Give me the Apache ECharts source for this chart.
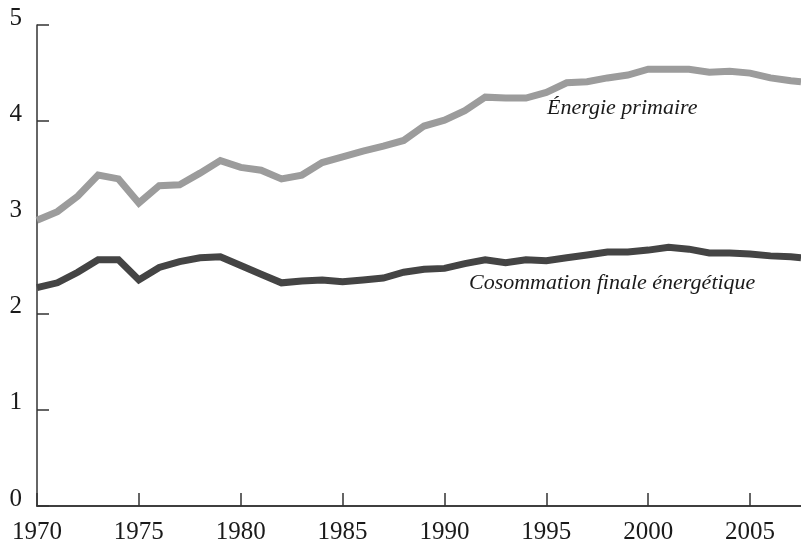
<!DOCTYPE html>
<html><head><meta charset="utf-8">
<script src="https://cdn.jsdelivr.net/npm/echarts@6/dist/echarts.min.js"></script>
<style>html,body{margin:0;padding:0;background:#fff}#c{width:801px;height:541px}</style>
</head><body><div id="c"></div>
<script>
var years = [1970,1971,1972,1973,1974,1975,1976,1977,1978,1979,1980,1981,1982,1983,1984,1985,1986,1987,1988,1989,1990,1991,1992,1993,1994,1995,1996,1997,1998,1999,2000,2001,2002,2003,2004,2005,2006,2007,2007.5];
var primaire = [2.97,3.06,3.22,3.44,3.40,3.15,3.33,3.34,3.46,3.59,3.52,3.49,3.40,3.44,3.57,3.63,3.69,3.74,3.80,3.95,4.01,4.11,4.25,4.24,4.24,4.30,4.40,4.41,4.45,4.48,4.54,4.54,4.54,4.51,4.52,4.50,4.45,4.42,4.41];
var finale = [2.27,2.32,2.43,2.56,2.56,2.35,2.48,2.54,2.58,2.59,2.50,2.41,2.32,2.34,2.35,2.33,2.35,2.37,2.43,2.46,2.47,2.52,2.56,2.53,2.56,2.55,2.58,2.61,2.64,2.64,2.66,2.69,2.67,2.63,2.63,2.62,2.60,2.59,2.58];
var yTicks = [0,1,2,3,4,5];
var labelPrimaire = 'Énergie primaire';
var labelFinale = 'Cosommation finale énergétique';

function pairs(xs, ys){ return xs.map(function(x,i){ return [x, ys[i]]; }); }

var chart = echarts.init(document.getElementById('c'), null, {renderer:'canvas'});
var font = 'Liberation Serif';
var axisCol = '#333';
chart.setOption({
  animation:false,
  backgroundColor:'#fff',
  grid:{left:37,right:0,top:25,bottom:35,containLabel:false,outerBoundsMode:'none'},
  xAxis:[{
    type:'value', min:1970, max:2007.5, interval:5,
    axisLine:{show:true,onZero:false,lineStyle:{color:axisCol,width:1.5}},
    axisTick:{show:true,inside:true,length:13,lineStyle:{color:axisCol,width:1.5}},
    axisLabel:{color:'#1a1a1a',fontFamily:font,fontSize:25,margin:14,showMaxLabel:false,formatter:function(v){return String(v);}},
    splitLine:{show:false}
  },{
    type:'value', position:'top', min:1970, max:2007.5,
    axisLine:{show:true,lineStyle:{color:axisCol,width:1.5}},
    axisTick:{show:false}, axisLabel:{show:false}, splitLine:{show:false}
  }],
  yAxis:{
    type:'value', min:yTicks[0], max:yTicks[yTicks.length-1], interval:1,
    axisLine:{show:true,onZero:false,lineStyle:{color:axisCol,width:1.5}},
    axisTick:{show:true,inside:true,length:12,lineStyle:{color:axisCol,width:1.5}},
    axisLabel:{color:'#1a1a1a',fontFamily:font,fontSize:25,margin:15,verticalAlign:'bottom',lineHeight:14},
    splitLine:{show:false}
  },
  series:[
    {type:'line',data:pairs(years,primaire),showSymbol:false,symbol:'none',lineStyle:{color:'#9c9c9c',width:7,join:'miter'}},
    {type:'line',data:pairs(years,finale),showSymbol:false,symbol:'none',lineStyle:{color:'#444',width:7,join:'miter'}}
  ],
  graphic:[
    {type:'text',left:547,top:97,style:{text:labelPrimaire,font:'italic 22px "Liberation Serif"',fill:'#1a1a1a'}},
    {type:'text',left:469,top:272,style:{text:labelFinale,font:'italic 22px "Liberation Serif"',fill:'#1a1a1a'}}
  ]
});
</script></body></html>
